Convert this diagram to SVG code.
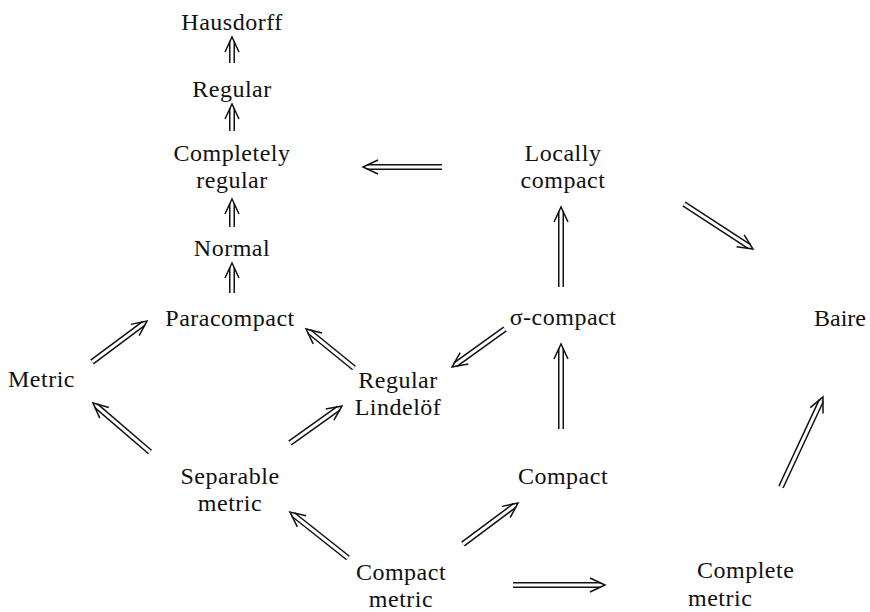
<svg xmlns="http://www.w3.org/2000/svg" width="870" height="612" viewBox="0 0 870 612">
<style>
  text { font-family: "Liberation Serif", "Times New Roman", serif; font-size: 24px; letter-spacing: 0.5px; fill: #111; }
  .c { text-anchor: middle; }
  .e { text-anchor: end; letter-spacing: 0; }
  .o { stroke: #111; stroke-width: 6; fill: none; stroke-linecap: butt; }
  .i { stroke: #fff; stroke-width: 3; fill: none; stroke-linecap: butt; marker-end: url(#head); }
</style>
<defs>
  <marker id="head" markerUnits="userSpaceOnUse" orient="auto" refX="0" refY="0" markerWidth="30" markerHeight="30" overflow="visible">
    <path d="M -11 -7 L 4 0 L -11 7" fill="none" stroke="#111" stroke-width="1.5" stroke-linejoin="miter"/>
  </marker>
</defs>
<rect width="870" height="612" fill="#fff"/>
<g id="hausdorff"><text class="c" x="232" y="30">Hausdorff</text></g>
<g id="regular"><text class="c" x="232" y="97">Regular</text></g>
<g id="completely-regular"><text class="c" x="232" y="161">Completely</text><text class="c" x="232" y="188">regular</text></g>
<g id="normal"><text class="c" x="232" y="256">Normal</text></g>
<g id="paracompact"><text class="c" x="230" y="326">Paracompact</text></g>
<g id="locally-compact"><text class="c" x="563" y="161">Locally</text><text class="c" x="563" y="188">compact</text></g>
<g id="sigma-compact"><text class="c" x="563" y="325">σ-compact</text></g>
<g id="baire"><text class="e" x="866" y="326">Baire</text></g>
<g id="metric"><text x="8" y="387">Metric</text></g>
<g id="regular-lindelof"><text class="c" x="398" y="388">Regular</text><text class="c" x="398" y="415">Lindelöf</text></g>
<g id="separable-metric"><text class="c" x="230" y="484">Separable</text><text class="c" x="230" y="511">metric</text></g>
<g id="compact"><text class="c" x="563" y="484">Compact</text></g>
<g id="compact-metric"><text class="c" x="401" y="580">Compact</text><text class="c" x="401" y="607">metric</text></g>
<g id="complete-metric"><text x="697" y="578">Complete</text><text x="688" y="606">metric</text></g>
<g id="connectors">
  <path class="o" d="M232 63 L232 41"/><path class="i" d="M232 63 L232 41"/>
  <path class="o" d="M232 131 L232 108"/><path class="i" d="M232 131 L232 108"/>
  <path class="o" d="M232 227 L232 203"/><path class="i" d="M232 227 L232 203"/>
  <path class="o" d="M232 293 L232 267"/><path class="i" d="M232 293 L232 267"/>
  <path class="o" d="M442 167 L367 167"/><path class="i" d="M442 167 L367 167"/>
  <path class="o" d="M561 287 L561 211"/><path class="i" d="M561 287 L561 211"/>
  <path class="o" d="M561 429 L561 348"/><path class="i" d="M561 429 L561 348"/>
  <path class="o" d="M684 204 L749.6 246.8"/><path class="i" d="M684 204 L749.6 246.8"/>
  <path class="o" d="M781 487 L821.3 400.6"/><path class="i" d="M781 487 L821.3 400.6"/>
  <path class="o" d="M513 585 L601 585"/><path class="i" d="M513 585 L601 585"/>
  <path class="o" d="M463 544 L514.8 505.4"/><path class="i" d="M463 544 L514.8 505.4"/>
  <path class="o" d="M348 558 L293.1 514.5"/><path class="i" d="M348 558 L293.1 514.5"/>
  <path class="o" d="M150 452 L96 405.6"/><path class="i" d="M150 452 L96 405.6"/>
  <path class="o" d="M290 443 L338.7 408.3"/><path class="i" d="M290 443 L338.7 408.3"/>
  <path class="o" d="M92 362 L143.8 323.4"/><path class="i" d="M92 362 L143.8 323.4"/>
  <path class="o" d="M354 368 L309.1 331.5"/><path class="i" d="M354 368 L309.1 331.5"/>
  <path class="o" d="M505 329 L455.3 364.7"/><path class="i" d="M505 329 L455.3 364.7"/>
</g>
</svg>
